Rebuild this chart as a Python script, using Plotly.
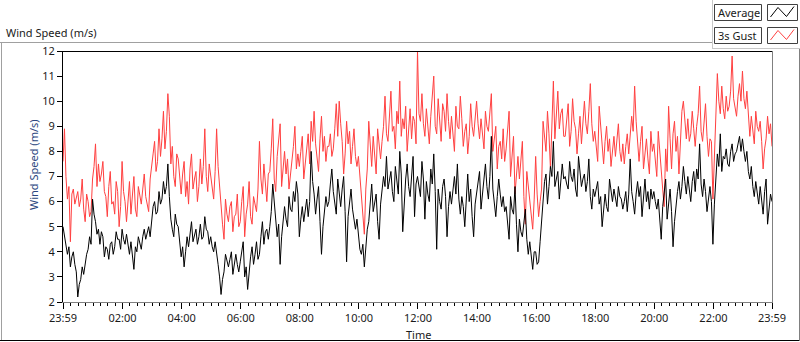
import plotly.graph_objects as go

# ---------------- data (3-minute samples) ----------------
step_minutes = 3
tick_minutes = [0, 121, 241, 361, 481, 601, 721, 841, 961, 1081, 1201, 1321, 1440]
tick_labels = ["23:59", "02:00", "04:00", "06:00", "08:00", "10:00", "12:00",
               "14:00", "16:00", "18:00", "20:00", "22:00", "23:59"]

gust_speed = [
    7.6, 8.9, 7.0, 6.1, 6.6, 4.4, 6.3, 6.5, 5.9, 6.2, 6.4, 5.8, 6.1, 6.9, 5.7, 5.2, 6.3, 6.0, 5.4, 5.6,
    6.9, 7.4, 8.3, 6.6, 7.5, 6.8, 7.1, 7.6, 6.4, 6.2, 5.4, 6.6, 7.2, 5.9, 6.0, 5.5, 6.8, 6.4, 5.0, 5.8,
    7.6, 6.4, 6.0, 5.2, 6.1, 6.8, 5.5, 6.3, 7.0, 5.7, 5.4, 6.6, 6.3, 5.9, 6.5, 7.1, 6.2, 5.8, 5.6, 6.9,
    7.3, 7.9, 8.4, 7.2, 7.6, 8.9, 7.8, 8.5, 9.6, 8.1, 8.8, 10.3, 9.4, 7.5, 8.2, 7.0, 6.6, 7.9, 7.7, 6.8,
    6.3, 7.1, 7.6, 6.2, 6.8, 5.9, 7.3, 7.9, 6.5, 6.9, 7.2, 6.0, 6.6, 7.7, 6.7, 7.4, 8.9, 7.0, 6.4, 7.5,
    7.0, 6.4, 6.1, 7.2, 8.9, 7.4, 6.5, 5.6, 5.1, 4.5, 6.1, 5.5, 5.2, 5.8, 6.0, 4.8, 5.4, 5.5, 6.3, 5.0,
    5.2, 6.0, 6.6, 4.6, 5.5, 5.9, 6.8, 5.4, 5.1, 6.2, 5.8, 5.6, 6.5, 8.4, 6.9, 6.3, 7.5, 6.6, 6.0, 7.1,
    7.2, 8.1, 9.3, 6.9, 6.4, 7.8, 8.4, 9.1, 6.6, 7.4, 8.0, 7.1, 7.7, 6.5, 7.0, 7.6, 8.2, 9.0, 7.3, 7.9,
    7.4, 8.0, 8.6, 6.9, 7.6, 8.1, 8.7, 7.5, 9.2, 8.4, 9.6, 8.3, 7.8, 7.2, 8.5, 9.4, 8.0, 8.6, 7.6, 8.2,
    8.2, 8.7, 7.8, 8.1, 8.9, 9.9, 8.6, 10.0, 9.1, 8.4, 7.1, 7.9, 9.2, 8.3, 8.8, 7.5, 8.2, 8.9, 7.8, 7.4,
    7.8, 7.0, 6.2, 5.6, 4.7, 6.5, 7.3, 9.2, 8.0, 7.4, 8.6, 7.6, 7.1, 8.9, 8.2, 7.7, 8.4, 9.0, 10.2, 8.7,
    8.4, 9.5, 10.4, 8.8, 9.0, 8.1, 9.6, 9.1, 10.8, 8.6, 9.3, 8.9, 9.8, 8.0, 8.7, 9.7, 8.5, 9.4, 9.2, 8.3,
    12.0, 9.5, 9.2, 10.3, 9.1, 8.6, 9.7, 8.9, 8.3, 9.4, 10.2, 11.0, 9.0, 8.7, 10.1, 9.3, 8.4, 9.9, 9.6, 8.8,
    10.3, 9.2, 8.5, 9.4, 8.7, 8.0, 9.8, 9.0, 8.9, 10.2, 9.3, 8.2, 8.8, 9.1, 7.9, 8.6, 9.9, 9.0, 8.6, 9.5,
    10.0, 9.1, 8.5, 9.3, 8.7, 8.1, 9.6, 9.0, 8.8, 9.7, 10.3, 8.0, 8.6, 9.0, 7.3, 8.2, 8.4, 7.7, 8.9, 7.6,
    8.1, 8.8, 9.6, 7.0, 7.7, 8.6, 6.3, 7.1, 7.8, 6.9, 7.5, 8.4, 6.2, 5.1, 7.2, 6.6, 6.0, 5.5, 4.9, 6.1,
    7.8, 6.3, 5.4, 6.0, 6.5, 9.2, 8.4, 8.0, 9.6, 8.7, 7.3, 8.8, 10.8, 8.5, 9.3, 10.4, 8.9, 9.5, 9.7, 8.6,
    8.6, 9.3, 9.9, 8.2, 8.8, 10.1, 9.2, 8.9, 7.9, 8.7, 9.4, 8.3, 9.0, 10.0, 9.1, 8.7, 9.6, 10.7, 9.1, 8.4,
    8.8, 8.1, 7.6, 9.8, 8.9, 8.2, 7.5, 8.4, 9.0, 8.0, 8.5, 7.4, 8.1, 8.6, 7.8, 8.4, 9.1, 8.0, 7.6, 8.3,
    7.5, 8.2, 8.7, 7.9, 8.6, 9.4, 8.8, 10.6, 9.2, 8.3, 7.6, 8.4, 9.0, 7.3, 8.1, 8.5, 7.7, 7.1, 8.8, 8.0,
    8.3, 7.6, 7.0, 8.8, 7.9, 7.4, 6.5, 5.8, 8.1, 7.2, 9.8, 8.5, 7.3, 8.7, 9.2, 8.0, 8.6, 7.1, 8.2, 9.6,
    10.0, 9.0, 8.5, 9.3, 8.4, 8.7, 9.6, 8.9, 8.2, 9.0, 9.5, 10.6, 8.8, 8.4, 9.2, 9.9, 8.6, 7.8, 8.5, 8.4,
    6.1, 8.0, 9.4, 11.1, 10.0, 9.5, 10.6, 9.7, 9.3, 10.2, 9.6, 9.8, 10.4, 11.8, 10.1, 9.7, 9.4, 10.2, 10.7, 10.0,
    11.2, 10.1, 9.7, 10.4, 9.5, 8.6, 9.4, 8.9, 8.3, 9.6, 9.0, 8.8, 9.2, 8.4, 7.3, 8.1, 8.5, 9.4, 8.7, 9.1,
    8.2,
]

average_speed = [
    5.0, 4.6, 4.3, 3.9, 4.2, 3.4, 3.8, 4.0, 3.5, 3.2, 2.2, 2.7, 2.9, 3.4, 3.1, 3.6, 3.9, 4.1, 4.6, 4.3,
    6.1, 5.5, 5.2, 4.7, 4.9, 4.3, 4.8, 4.6, 3.8, 4.2, 4.1, 3.7, 4.3, 4.4, 3.9, 4.2, 4.8, 4.5, 4.5, 4.1,
    4.9, 4.5, 4.3, 4.7, 4.2, 3.9, 4.4, 3.7, 3.3, 4.2, 4.0, 4.6, 4.3, 4.1, 4.6, 4.9, 4.5, 4.7, 5.0, 4.6,
    5.4, 5.8, 6.0, 5.5, 5.6, 6.4, 5.9, 6.1, 6.8, 6.3, 6.6, 7.5, 6.2, 5.3, 4.9, 4.6, 5.5, 5.1, 5.0, 4.4,
    3.8, 4.2, 3.4, 4.0, 4.6, 4.2, 4.8, 5.2, 4.4, 4.7, 4.9, 4.3, 4.6, 5.1, 4.5, 4.6, 5.4, 4.9, 4.8, 4.3,
    4.6, 4.2, 4.0, 4.4, 3.8, 3.5, 3.0, 2.3, 2.9, 3.2, 3.9, 3.6, 3.4, 3.7, 4.0, 3.1, 3.5, 3.9, 3.5, 3.2,
    3.6, 4.0, 4.4, 3.0, 3.4, 2.5, 3.3, 3.8, 4.2, 3.5, 3.9, 4.4, 3.7, 3.9, 4.6, 5.2, 4.3, 4.8, 4.9, 4.5,
    5.0, 5.6, 6.7, 5.9, 5.5, 4.6, 5.1, 3.5, 4.6, 5.2, 5.8, 5.3, 5.0, 6.2, 5.7, 5.6, 6.4, 6.0, 6.8, 6.3,
    4.6, 5.3, 5.8, 5.2, 5.7, 6.1, 5.4, 6.0, 8.0, 6.8, 6.3, 5.5, 6.1, 6.6, 5.2, 3.9, 5.0, 5.7, 6.2, 5.8,
    6.0, 6.7, 7.3, 6.4, 5.9, 5.5, 6.9, 6.2, 5.8, 6.5, 7.0, 5.6, 3.6, 5.4, 5.9, 6.5, 5.7, 5.2, 4.9, 5.3,
    4.6, 4.1, 3.9, 4.3, 3.4, 4.4, 4.9, 5.2, 6.1, 6.7, 5.6, 6.0, 6.3, 5.2, 4.5, 5.9, 6.4, 7.0, 6.6, 7.8,
    6.5, 6.9, 7.2, 6.4, 6.0, 7.4, 6.8, 6.3, 8.0, 7.1, 4.8, 6.2, 6.9, 7.5, 6.6, 6.2, 7.2, 7.8, 5.4, 6.7,
    7.0, 6.6, 6.2, 7.6, 6.9, 5.3, 6.8, 6.3, 6.0, 7.3, 6.7, 7.9, 6.4, 4.1, 6.5, 6.0, 5.7, 6.6, 6.9, 6.2,
    4.6, 5.8, 6.4, 5.9, 6.6, 7.0, 6.3, 7.5, 6.1, 5.5, 6.2, 5.8, 5.0, 6.4, 7.1, 6.0, 6.5, 5.4, 4.6, 5.9,
    6.4, 6.9, 7.2, 5.7, 6.3, 6.8, 7.5, 6.6, 6.1, 7.0, 8.6, 6.5, 6.0, 5.4, 6.2, 6.9, 6.3, 5.8, 6.2, 5.6,
    5.8, 5.2, 4.5, 6.2, 5.7, 5.5, 6.6, 5.1, 4.0, 5.3, 4.8, 4.6, 5.2, 5.7, 4.5, 3.9, 4.4, 3.8, 3.3, 4.0,
    4.0, 3.5, 3.6, 4.4, 5.3, 6.3, 6.8, 7.1, 5.9, 6.6, 7.4, 7.0, 8.4, 6.6, 7.0, 7.2, 6.1, 6.7, 7.5, 6.9,
    7.0, 6.7, 6.5, 7.6, 7.0, 6.8, 7.3, 6.5, 6.2, 7.8, 7.1, 6.6, 6.9, 7.1, 6.4, 6.8, 7.7, 6.2, 5.7, 6.5,
    6.2, 6.5, 6.8, 5.9, 6.2, 5.0, 5.6, 6.3, 5.8, 5.6, 6.9, 6.3, 6.0, 6.5, 6.1, 5.8, 6.6, 6.2, 6.1, 5.7,
    6.0, 6.4, 5.6, 6.3, 7.7, 6.4, 6.0, 5.5, 6.3, 6.8, 6.2, 6.6, 5.4, 6.1, 6.9, 6.0, 6.4, 5.7, 6.5, 6.1,
    6.4, 6.0, 5.7, 6.1, 5.4, 4.5, 5.8, 6.3, 6.9, 5.3, 5.9, 6.5, 5.6, 4.2, 5.2, 5.9, 6.4, 6.8, 6.1, 6.6,
    7.4, 6.8, 6.3, 7.0, 6.5, 6.0, 6.8, 7.2, 6.4, 7.3, 6.9, 8.3, 6.7, 6.2, 6.9, 6.4, 5.6, 6.2, 6.6, 6.0,
    4.3, 5.9, 6.8, 7.9, 7.4, 8.7, 7.2, 7.8, 7.7, 8.1, 7.5, 7.4, 8.0, 8.3, 7.6, 7.9, 8.0, 8.4, 8.6, 8.0,
    8.5, 8.0, 7.6, 8.0, 7.2, 6.9, 7.4, 6.6, 6.2, 6.8, 6.3, 5.9, 6.6, 6.1, 5.5, 6.4, 6.9, 5.1, 5.8, 6.3,
    6.0,
]

assert len(gust_speed) == 481, len(gust_speed)
assert len(average_speed) == 481, len(average_speed)
minutes = [i * step_minutes for i in range(len(average_speed))]

# ---------------- geometry helpers (pixel -> paper) ----------------
W, H = 800, 342
PL, PT, PR, PB = 63, 51, 772, 302
PW, PH = PR - PL, PB - PT


def px(x):
    return (x - PL) / PW


def py(y):
    return (PB - y) / PH


FONT = "Noto Sans"
FS = 11
TXT = "#1a1a1a"

fig = go.Figure()
fig.add_trace(go.Scatter(x=minutes, y=gust_speed, mode="lines", name="3s Gust",
                         line=dict(color="#ff4040", width=1)))
fig.add_trace(go.Scatter(x=minutes, y=average_speed, mode="lines", name="Average",
                         line=dict(color="#000000", width=1)))

fig.update_layout(
    width=W, height=H,
    margin=dict(l=PL, r=W - PR, t=PT, b=H - PB),
    paper_bgcolor="white", plot_bgcolor="white",
    showlegend=False,
    font=dict(family=FONT, size=FS, color=TXT),
)
fig.update_xaxes(
    range=[0, 1440], tickmode="array", tickvals=tick_minutes, ticktext=tick_labels,
    ticks="outside", ticklen=6, tickwidth=1, tickcolor="#000000",
    showgrid=False, zeroline=False, showline=False,
    tickfont=dict(family=FONT, size=FS, color=TXT),
    minor=dict(tickmode="linear", tick0=1, dtick=15, ticks="outside", ticklen=3,
               tickwidth=1, tickcolor="#000000", showgrid=False),
)
fig.update_yaxes(
    range=[2, 12], tickmode="linear", tick0=2, dtick=1,
    ticks="outside", ticklen=5, tickwidth=1, tickcolor="#000000",
    showgrid=False, zeroline=False, showline=False,
    tickfont=dict(family=FONT, size=FS, color=TXT),
)

shapes = []


def hline(y, x0, x1, color, width=1):
    shapes.append(dict(type="line", xref="paper", yref="paper", x0=px(x0), x1=px(x1),
                       y0=py(y), y1=py(y), line=dict(color=color, width=width), layer="above"))


def vline(x, y0, y1, color, width=1):
    shapes.append(dict(type="line", xref="paper", yref="paper", x0=px(x), x1=px(x),
                       y0=py(y0), y1=py(y1), line=dict(color=color, width=width), layer="above"))


# plot frame (inset style)
hline(51.5, 62, 772, "#000000")
vline(62.5, 51, 303, "#000000")
hline(302.5, 62, 772.5, "#808080")
vline(772.5, 51, 303, "#808080")

# outer panel frame
hline(42.5, 0, 712, "#a0a0a0")
vline(1.5, 42, 341, "#a0a0a0")
hline(340.5, 0, 800, "#000000")
vline(799.5, 48, 341, "#808080")
# legend panel edges
vline(712.5, 0, 49, "#c8c8c8")
hline(48.5, 712, 800, "#c8c8c8")

# legend boxes
legend_rows = [("Average", "#000000", 4.5), ("3s Gust", "#ff4040", 27.5)]
annotations = []
for label, color, top in legend_rows:
    shapes.append(dict(type="rect", xref="paper", yref="paper",
                       x0=px(714.5), x1=px(761.5), y0=py(top), y1=py(top + 16),
                       line=dict(color="#404040", width=1), fillcolor="white", layer="above"))
    shapes.append(dict(type="rect", xref="paper", yref="paper",
                       x0=px(767.5), x1=px(797.5), y0=py(top), y1=py(top + 16),
                       line=dict(color="#404040", width=1), fillcolor="white", layer="above"))
    pts = [(770.5, top + 12.5), (778, top + 3), (786.5, top + 12), (794, top + 2)]
    path = "M " + " L ".join(f"{px(a):.5f},{py(b):.5f}" for a, b in pts)
    shapes.append(dict(type="path", xref="paper", yref="paper", path=path,
                       line=dict(color=color, width=1), layer="above"))
    annotations.append(dict(text=label, xref="paper", yref="paper", x=px(716), y=py(top + 8),
                            xanchor="left", yanchor="middle", showarrow=False,
                            font=dict(family=FONT, size=FS, color=TXT)))

annotations.append(dict(text="Wind Speed (m/s)", xref="paper", yref="paper", x=px(4), y=py(32),
                        xanchor="left", yanchor="middle", showarrow=False,
                        font=dict(family=FONT, size=FS, color=TXT)))
annotations.append(dict(text="Wind Speed (m/s)", xref="paper", yref="paper", x=px(33), y=py(165),
                        xanchor="center", yanchor="middle", showarrow=False, textangle=-90,
                        font=dict(family=FONT, size=FS, color="#2a4680")))
annotations.append(dict(text="Time", xref="paper", yref="paper", x=px(418), y=py(334),
                        xanchor="center", yanchor="middle", showarrow=False,
                        font=dict(family=FONT, size=FS, color=TXT)))

fig.update_layout(shapes=shapes, annotations=annotations)

fig.write_html("out.html", config={"displayModeBar": False},
               post_script="document.body.style.margin='0';")
